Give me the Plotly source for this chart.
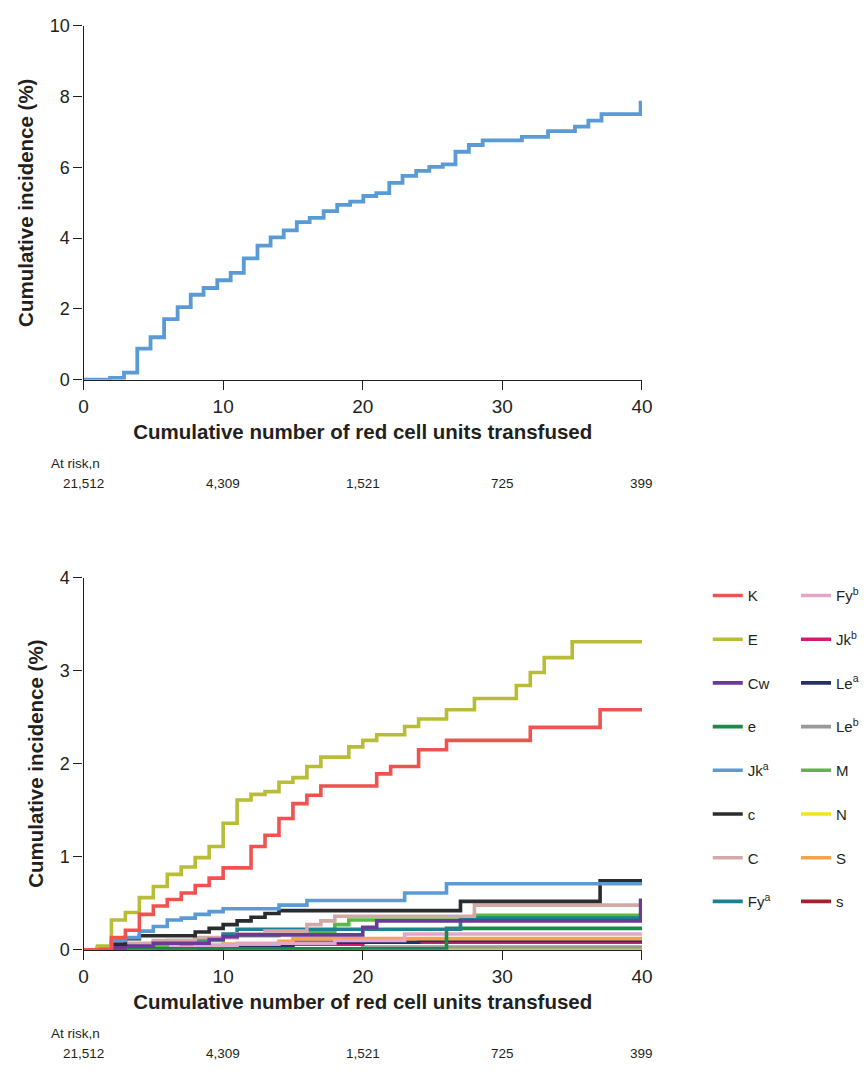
import plotly.graph_objects as go

# ---------------- data ----------------
top_x = [0, 1.9, 2.9, 3.85, 4.8, 5.77, 6.74, 7.68, 8.6, 9.58, 10.54, 11.48, 12.46, 13.4,
         14.34, 15.28, 16.2, 17.2, 18.17, 19.1, 20.04, 20.97, 21.9, 22.85, 23.83, 24.77,
         25.73, 26.64, 27.6, 28.59, 31.4, 33.27, 35.2, 36.16, 37.1, 39.9]
top_y = [0, 0.05, 0.2, 0.88, 1.2, 1.71, 2.05, 2.4, 2.59, 2.81, 3.02, 3.43, 3.79, 4.02,
         4.22, 4.45, 4.57, 4.76, 4.94, 5.03, 5.19, 5.27, 5.56, 5.76, 5.9, 6.01,
         6.08, 6.44, 6.63, 6.76, 6.86, 7.02, 7.15, 7.32, 7.5, 7.88]

at_risk_x = [0, 10, 20, 30, 40]
at_risk_n = ["21,512", "4,309", "1,521", "725", "399"]

K_x = [0, 2, 3, 4, 5, 6, 7, 8, 9, 10, 12, 13, 14, 15, 16, 17, 21, 22, 24, 26, 32, 37, 40]
K_y = [0, 0.13, 0.21, 0.38, 0.47, 0.54, 0.61, 0.69, 0.77, 0.88, 1.11, 1.23, 1.41, 1.57,
       1.66, 1.76, 1.89, 1.97, 2.15, 2.25, 2.39, 2.58, 2.58]
E_x = [0, 1, 2, 3, 4, 5, 6, 7, 8, 9, 10, 11, 12, 13, 14, 15, 16, 17, 19, 20, 21, 23, 24,
       26, 28, 31, 32, 33, 35, 40]
E_y = [0, 0.04, 0.32, 0.40, 0.56, 0.68, 0.81, 0.89, 0.99, 1.11, 1.36, 1.61, 1.67, 1.70,
       1.80, 1.85, 1.97, 2.07, 2.18, 2.25, 2.31, 2.40, 2.48, 2.58, 2.70, 2.84, 2.98, 3.14,
       3.31, 3.31]
Cw_x = [0, 1, 3, 5, 9, 10, 11, 20, 21, 39.9]
Cw_y = [0, 0.02, 0.04, 0.07, 0.11, 0.14, 0.16, 0.24, 0.31, 0.55]
e_x = [0, 2, 26, 40]
e_y = [0, 0.01, 0.23, 0.23]
Jka_x = [0, 2, 3, 4, 5, 6, 7, 8, 9, 10, 14, 16, 23, 26, 40]
Jka_y = [0, 0.10, 0.13, 0.20, 0.25, 0.32, 0.34, 0.38, 0.41, 0.44, 0.48, 0.53, 0.61, 0.71, 0.71]
c_x = [0, 2, 3, 4, 8, 9, 10, 11, 12, 13, 14, 27, 37, 40]
c_y = [0, 0.06, 0.12, 0.15, 0.19, 0.23, 0.27, 0.31, 0.35, 0.39, 0.42, 0.52, 0.74, 0.74]
C_x = [0, 2, 3, 5, 8, 11, 13, 16, 17, 18, 28, 40]
C_y = [0, 0.03, 0.07, 0.10, 0.13, 0.17, 0.20, 0.27, 0.31, 0.36, 0.48, 0.48]
Fya_x = [0, 3, 5, 8, 10, 11, 27, 40]
Fya_y = [0, 0.05, 0.08, 0.12, 0.17, 0.22, 0.34, 0.34]
Fyb_x = [0, 3, 8, 11, 18, 23, 40]
Fyb_y = [0, 0.02, 0.05, 0.07, 0.10, 0.17, 0.17]
Jkb_x = [0, 3, 7, 12, 20, 40]
Jkb_y = [0, 0.02, 0.04, 0.06, 0.08, 0.08]
Lea_x = [0, 5, 10, 15, 24, 40]
Lea_y = [0, 0.02, 0.05, 0.08, 0.10, 0.10]
Leb_x = [0, 8, 20, 40]
Leb_y = [0, 0.01, 0.03, 0.03]
M_x = [0, 3, 6, 10, 14, 18, 19, 28, 40]
M_y = [0, 0.05, 0.10, 0.15, 0.20, 0.27, 0.32, 0.37, 0.37]
N_x = [0, 10, 30, 40]
N_y = [0, 0.005, 0.01, 0.01]
S_x = [0, 5, 10, 14, 15, 40]
S_y = [0, 0.03, 0.06, 0.09, 0.12, 0.12]
s_x = [0, 40]
s_y = [0, 0]

series = {
    "K": (K_x, K_y, "#ef5350", "K"),
    "E": (E_x, E_y, "#b9bd35", "E"),
    "Cw": (Cw_x, Cw_y, "#6b3a99", "Cw"),
    "e": (e_x, e_y, "#1a8a47", "e"),
    "Jka": (Jka_x, Jka_y, "#5b9bd5", "Jk<sup>a</sup>"),
    "c": (c_x, c_y, "#2a2c2f", "c"),
    "C": (C_x, C_y, "#d5a8a8", "C"),
    "Fya": (Fya_x, Fya_y, "#1e8090", "Fy<sup>a</sup>"),
    "Fyb": (Fyb_x, Fyb_y, "#e3a5cc", "Fy<sup>b</sup>"),
    "Jkb": (Jkb_x, Jkb_y, "#d31b6d", "Jk<sup>b</sup>"),
    "Lea": (Lea_x, Lea_y, "#24306e", "Le<sup>a</sup>"),
    "Leb": (Leb_x, Leb_y, "#98989d", "Le<sup>b</sup>"),
    "M": (M_x, M_y, "#5db748", "M"),
    "N": (N_x, N_y, "#f2e41c", "N"),
    "S": (S_x, S_y, "#f7a14b", "S"),
    "s": (s_x, s_y, "#a3222b", "s"),
}
col1 = ["K", "E", "Cw", "e", "Jka", "c", "C", "Fya"]
col2 = ["Fyb", "Jkb", "Lea", "Leb", "M", "N", "S", "s"]
draw_order = ["s", "N", "Leb", "Jkb", "Lea", "S", "Fyb", "e", "M", "Fya", "C", "Cw",
              "c", "Jka", "E", "K"]

# ---------------- figure ----------------
W, H = 864, 1079
fig = go.Figure()

fig.add_trace(go.Scatter(x=top_x, y=top_y, mode="lines", line=dict(shape="hv", color="#5b9bd5", width=3.8),
                         showlegend=False, xaxis="x", yaxis="y"))

for key in draw_order:
    xs, ys, col, name = series[key]
    if key in col1:
        leg, rank = "legend", col1.index(key)
    else:
        leg, rank = "legend2", col2.index(key)
    fig.add_trace(go.Scatter(x=xs, y=ys, mode="lines", name=name,
                             line=dict(shape="hv", color=col, width=3.6),
                             xaxis="x2", yaxis="y2", legend=leg, legendrank=rank + 1,
                             legendgroup=key))

dark = "#231f20"
tickfont_y = dict(family="Liberation Sans, Arial", size=18, color=dark)
tickfont_x = dict(family="Liberation Sans, Arial", size=19, color=dark)
titlefont = dict(family="Liberation Sans, Arial", size=20.5, color=dark, weight="bold")

xdom = [80 / W, 649 / W]
ax_common = dict(showgrid=False, zeroline=False, showline=True, linecolor=dark, linewidth=1.3,
                 ticks="outside", ticklen=9, tickcolor=dark, tickwidth=1.3)

fig.update_layout(
    width=W, height=H, margin=dict(l=0, r=0, t=0, b=0),
    paper_bgcolor="white", plot_bgcolor="white",
    xaxis=dict(domain=xdom, anchor="y", range=[0, 40], tickvals=[0, 10, 20, 30, 40],
               tickfont=tickfont_x, title=dict(text="Cumulative number of red cell units transfused",
                                               font=titlefont, standoff=8), **ax_common),
    yaxis=dict(domain=[1 - 376.7 / H, 1 - 16 / H], anchor="x", range=[0, 10],
               tickvals=[0, 2, 4, 6, 8, 10], tickfont=tickfont_y,
               title=dict(text="Cumulative incidence (%)", font=titlefont, standoff=10), **ax_common),
    xaxis2=dict(domain=xdom, anchor="y2", range=[0, 40], tickvals=[0, 10, 20, 30, 40],
                tickfont=tickfont_x, title=dict(text="Cumulative number of red cell units transfused",
                                                font=titlefont, standoff=8), **ax_common),
    yaxis2=dict(domain=[1 - 957.5 / H, 1 - 578.3 / H], anchor="x2", range=[0, 4],
                tickvals=[0, 1, 2, 3, 4], tickfont=tickfont_y,
                title=dict(text="Cumulative incidence (%)", font=titlefont, standoff=10), **ax_common),
    legend=dict(x=716 / W, xanchor="left", y=1 - 580 / H, yanchor="top", tracegroupgap=21.2,
                font=dict(family="Liberation Sans, Arial", size=15, color=dark),
                bgcolor="rgba(0,0,0,0)", borderwidth=0),
    legend2=dict(x=806 / W, xanchor="left", y=1 - 580 / H, yanchor="top", tracegroupgap=21.2,
                 font=dict(family="Liberation Sans, Arial", size=15, color=dark),
                 bgcolor="rgba(0,0,0,0)", borderwidth=0),
)

annfont = dict(family="Liberation Sans, Arial", size=13.5, color=dark)
for xa, y_label, y_nums in [("x", 462, 482), ("x2", 1043, 1063)]:
    fig.add_annotation(text="At risk,n", xref="paper", yref="paper", x=45 / W, y=1 - y_label / H,
                       xanchor="left", yanchor="middle", showarrow=False, font=annfont)
    for xv, n in zip(at_risk_x, at_risk_n):
        fig.add_annotation(text=n, xref=xa, yref="paper", x=xv, y=1 - y_nums / H,
                           xanchor="center", yanchor="middle", showarrow=False, font=annfont)

fig.write_html("out.html")
